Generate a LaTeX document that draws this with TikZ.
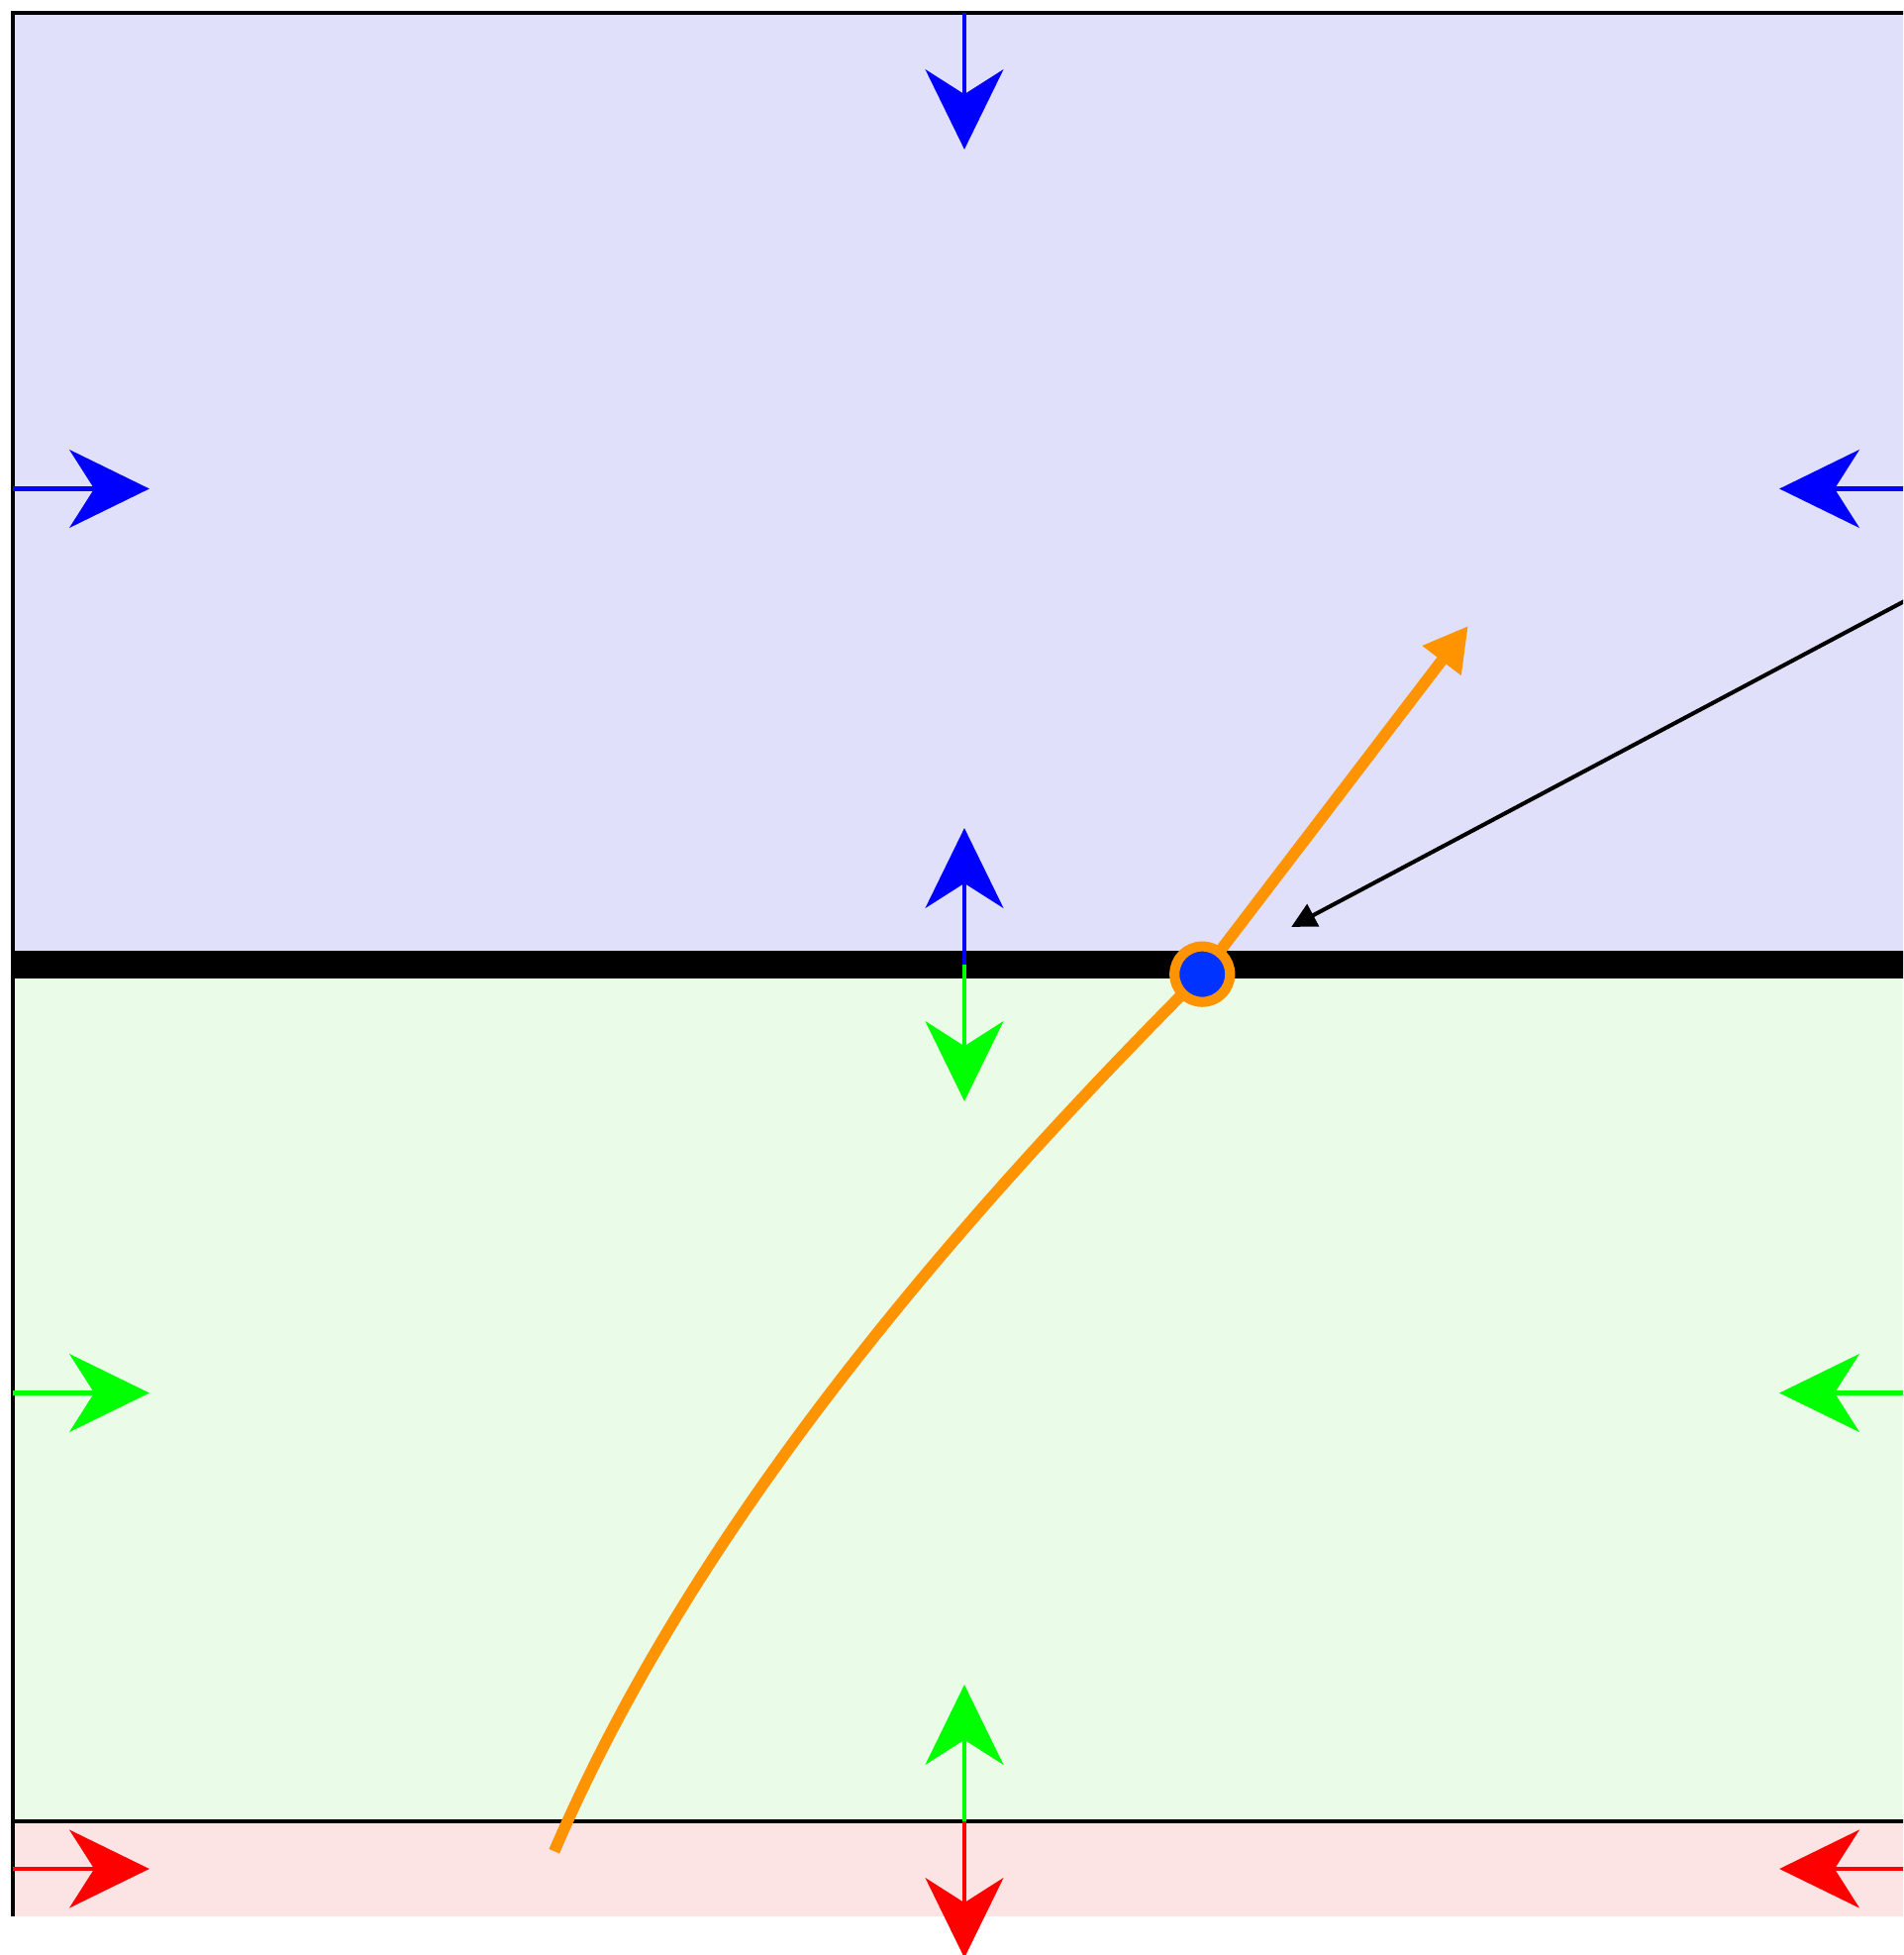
\documentclass[tikz,border=0pt]{standalone}
\usepackage{xcolor}
\usepackage{tikz}
\usetikzlibrary{arrows.meta}
\definecolor{upfill}{RGB}{224,224,250}
\definecolor{midfill}{RGB}{234,252,232}
\definecolor{lowfill}{RGB}{253,228,228}
\definecolor{traj}{RGB}{255,148,0}
\definecolor{ptblue}{RGB}{0,51,255}

\begin{document}
\begin{tikzpicture}[x=2.5cm,y=2.5cm,
  flow/.style={-{Stealth[length=4.2mm,width=4.1mm,inset=1.3mm]},line width=.6pt},
  wall/.style={line width=.6pt}]
\useasboundingbox (-2.027,-2.081) rectangle (1.973,2.027);
\clip (-2.027,-2.081) rectangle (1.973,2.027);
% regions
\fill[upfill] (-2,0) rectangle (2,2);
\fill[midfill] (-2,-1.8) rectangle (2,0);
\fill[lowfill] (-2,-2) rectangle (2,-1.8);
\draw[wall] (-2,-2)--(-2,2)--(2,2);
\draw[wall] (-2,-1.8)--(2,-1.8);
\draw[line width=4.1pt] (-2,0)--(2,0);
% flow arrows
\draw[flow,blue] (0,2)--++(0,-.287);
\draw[flow,blue] (0,0)--++(0,.287);
\draw[flow,blue] (-2,1)--++(.287,0);
\draw[flow,blue] (2,1)--++(-.287,0);
\draw[flow,green] (0,0)--++(0,-.287);
\draw[flow,green] (0,-1.8)--++(0,.287);
\draw[flow,green] (-2,-.9)--++(.287,0);
\draw[flow,green] (2,-.9)--++(-.287,0);
\draw[flow,red] (0,-1.8)--++(0,-.287);
\draw[flow,red] (-2,-1.9)--++(.287,0);
\draw[flow,red] (2,-1.9)--++(-.287,0);
% trajectory through the point
\coordinate (P) at (.5,-.02);
\coordinate (R) at (1.059,.712);
\coordinate (E) at (-.862,-1.863);
\coordinate (lbl) at (2.3,.936);
\draw[traj,line width=1.7pt] (P) .. controls (-.125,-.645) and (-.598,-1.249) .. (E);
\draw[traj,line width=1.7pt,-{Triangle[length=2.3mm,width=2.4mm]}] (P)--(R);
\draw[line width=.6pt,-{Triangle[length=1.3mm,width=1.3mm]},shorten >=5.3mm] (lbl)--(P);
\filldraw[fill=ptblue,draw=traj,line width=1.5pt] (P) circle (1.46mm);
\end{tikzpicture}
\end{document}
